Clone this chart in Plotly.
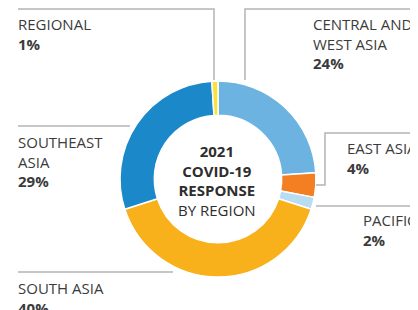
import plotly.graph_objects as go

# The page body adds an 8px margin, so the figure is offset by 8px in the window.
OFF = 8
WIN_W, WIN_H = 418, 310
W, H = WIN_W - OFF, WIN_H - OFF

regions = ["CENTRAL AND<br>WEST ASIA", "EAST ASIA", "PACIFIC", "SOUTH ASIA", "SOUTHEAST<br>ASIA", "REGIONAL"]
shares = [24, 4, 2, 40, 29, 1]
colors = ["#6cb3e1", "#f47e22", "#b8dcf2", "#f8b11b", "#1b88c9", "#f6e43a"]
center_lines = ["<b>2021</b>", "<b>COVID-19</b>", "<b>RESPONSE</b>", "BY REGION"]

# pie geometry (window pixels)
cx, cy, R = 218, 179, 98

def px(x):
    return (x - OFF) / W

def py(y):
    return 1 - (y - OFF) / H

fig = go.Figure(go.Pie(
    values=shares,
    labels=[r.replace("<br>", " ") for r in regions],
    marker=dict(colors=colors, line=dict(color="white", width=1.5)),
    sort=False,
    direction="clockwise",
    rotation=0,
    hole=0.65,
    textinfo="none",
    hoverinfo="label+percent",
    showlegend=False,
    domain=dict(x=[px(cx - R), px(cx + R)], y=[py(cy + R), py(cy - R)]),
))

FONT = "Open Sans"
TXT = "#3b3b3b"
LINE = "#b4b4b4"
LAB_SIZE = 15
STEP = 1.3 * LAB_SIZE

# label placement (window pixels: left x, centre y of first line)
label_pos = {
    "REGIONAL": (16, 24),
    "CENTRAL AND<br>WEST ASIA": (311, 24),
    "SOUTHEAST<br>ASIA": (16, 142),
    "EAST ASIA": (345, 148),
    "PACIFIC": (361, 220),
    "SOUTH ASIA": (16, 288),
}

annotations = []
for name, val in zip(regions, shares):
    x, y = label_pos[name]
    n = name.count("<br>") + 2
    annotations.append(dict(
        text=f"{name}<br><b>{val}%</b>",
        x=px(x), y=py(y + (n - 1) * STEP / 2), xref="paper", yref="paper",
        xanchor="left", yanchor="middle", align="left", showarrow=False,
        font=dict(family=FONT, size=LAB_SIZE, color=TXT),
    ))

annotations.append(dict(
    text="<br>".join(center_lines),
    x=px(217), y=py(180), xref="paper", yref="paper",
    xanchor="center", yanchor="middle", align="center", showarrow=False,
    font=dict(family=FONT, size=15, color="#2e2e2e"),
))

segs = [
    [(18, 9), (214, 9), (214, 80)],
    [(245, 80), (245, 9), (420, 9)],
    [(18, 126), (130, 126)],
    [(316, 185), (325, 185), (325, 133), (420, 133)],
    [(316, 206), (420, 206)],
    [(18, 272), (173, 272)],
]
shapes = []
for pts in segs:
    path = "M " + " L ".join(f"{px(x)},{py(y)}" for x, y in pts)
    shapes.append(dict(type="path", path=path, xref="paper", yref="paper",
                       line=dict(color=LINE, width=1.5)))

fig.update_layout(
    width=W, height=H,
    margin=dict(l=0, r=0, t=0, b=0),
    paper_bgcolor="white", plot_bgcolor="white",
    annotations=annotations, shapes=shapes,
)

fig.write_html("out.html")
